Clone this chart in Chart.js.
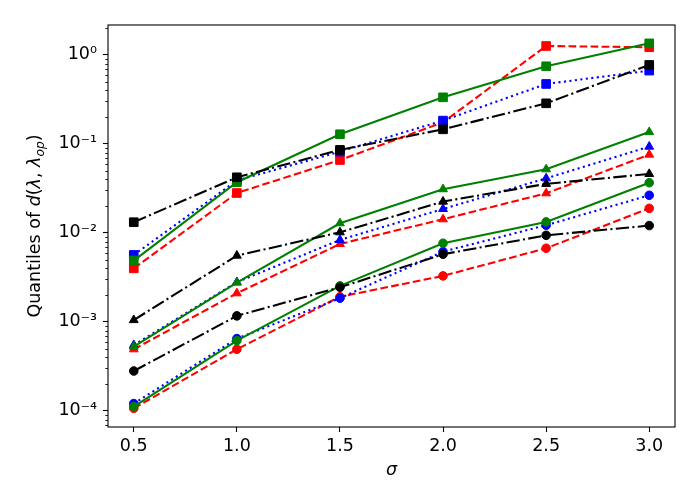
<!DOCTYPE html>
<html>
<head>
<meta charset="utf-8">
<script src="https://cdn.jsdelivr.net/npm/chart.js@4"></script>
<style>
  html, body { margin: 0; padding: 0; background: #fff; }
  #wrap { width: 700px; height: 500px; }
</style>
</head>
<body>
<div id="wrap"><canvas id="c" width="700" height="500"></canvas></div>
<script>
// ---- data ----
const sigma = [0.5, 1.0, 1.5, 2.0, 2.5, 3.0];
const xTicks = [0.5, 1.0, 1.5, 2.0, 2.5, 3.0];
const yTicks = [1e-4, 1e-3, 1e-2, 1e-1, 1e0];
const yTickLabels = ['10\u207B\u2074', '10\u207B\u00B3', '10\u207B\u00B2', '10\u207B\u00B9', '10\u2070'];

const redCircle   = [1.07e-4, 4.93e-4, 1.92e-3, 3.29e-3, 6.73e-3, 1.89e-2];
const redTri      = [4.93e-4, 2.10e-3, 7.52e-3, 1.425e-2, 2.79e-2, 7.59e-2];
const redSquare   = [4.00e-3, 2.81e-2, 6.60e-2, 1.75e-1, 1.26, 1.22];
const blueCircle  = [1.21e-4, 6.50e-4, 1.85e-3, 6.17e-3, 1.22e-2, 2.65e-2];
const blueTri     = [5.50e-4, 2.80e-3, 8.34e-3, 1.86e-2, 4.11e-2, 9.33e-2];
const blueSquare  = [5.66e-3, 3.88e-2, 8.20e-2, 1.83e-1, 4.72e-1, 6.67e-1];
const greenCircle = [1.12e-4, 6.17e-4, 2.54e-3, 7.66e-3, 1.33e-2, 3.67e-2];
const greenTri    = [5.28e-4, 2.77e-3, 1.285e-2, 3.10e-2, 5.19e-2, 1.36e-1];
const greenSquare = [4.89e-3, 3.71e-2, 1.285e-1, 3.34e-1, 7.46e-1, 1.35];
const blackCircle = [2.81e-4, 1.17e-3, 2.45e-3, 5.76e-3, 9.40e-3, 1.21e-2];
const blackTri    = [1.05e-3, 5.56e-3, 1.017e-2, 2.25e-2, 3.56e-2, 4.60e-2];
const blackSquare = [1.32e-2, 4.22e-2, 8.57e-2, 1.46e-1, 2.86e-1, 7.72e-1];

// ---- styles ----
const FONT = "'DejaVu Sans', 'Liberation Sans', sans-serif";
const FS = 17.5;
const LW = 2.08;
const methods = [
  { color: '#ff0000', dash: [7.7, 3.33], series: [redCircle, redTri, redSquare] },
  { color: '#0000ff', dash: [2.08, 3.44], series: [blueCircle, blueTri, blueSquare] },
  { color: '#008000', dash: [], series: [greenCircle, greenTri, greenSquare] },
  { color: '#000000', dash: [13.3, 3.33, 2.08, 3.33], series: [blackCircle, blackTri, blackSquare] }
];
const markers = [
  { style: 'circle', r: 4.3 },
  { style: 'triangle', r: 5.1 },
  { style: 'rect', r: 6.1 }
];

const datasets = [];
let seq = 0;
methods.forEach(m => {
  m.series.forEach((vals, qi) => {
    const mk = markers[qi];
    datasets.push({
      data: sigma.map((s, i) => ({ x: s, y: vals[i] })),
      borderColor: m.color,
      backgroundColor: m.color,
      borderWidth: LW,
      borderDash: m.dash,
      borderCapStyle: 'butt',
      fill: false,
      tension: 0,
      pointStyle: mk.style,
      pointRadius: mk.r,
      pointHoverRadius: mk.r,
      pointBorderWidth: 1,
      pointBackgroundColor: m.color,
      pointBorderColor: m.color,
      order: 100 - seq
    });
    seq++;
  });
});

const decoPlugin = {
  id: 'deco',
  afterDraw(chart) {
    const ctx = chart.ctx;
    const a = chart.chartArea;
    const ys = chart.scales.y;
    ctx.save();
    // minor ticks on log axis
    ctx.strokeStyle = '#000';
    ctx.lineWidth = 0.83;
    for (let k = -6; k <= 1; k++) {
      for (let m = 2; m <= 9; m++) {
        const v = m * Math.pow(10, k);
        if (v < ys.min || v > ys.max) continue;
        const py = Math.round(ys.getPixelForValue(v)) + 0.5;
        ctx.beginPath();
        ctx.moveTo(a.left, py);
        ctx.lineTo(a.left - 2.8, py);
        ctx.stroke();
      }
    }
    // frame
    ctx.lineWidth = 1.1;
    ctx.strokeRect(a.left, a.top, a.right - a.left, a.bottom - a.top);

    // x label
    ctx.fillStyle = '#000';
    ctx.font = 'italic ' + FS + 'px ' + FONT;
    ctx.textAlign = 'center';
    ctx.textBaseline = 'alphabetic';
    ctx.fillText('\u03C3', (a.left + a.right) / 2, 475);

    // y label (mixed styles, rotated)
    const segs = [
      { t: 'Quantiles of ', f: FS + 'px ' + FONT, dy: 0 },
      { t: 'd', f: 'italic ' + FS + 'px ' + FONT, dy: 0 },
      { t: '(', f: FS + 'px ' + FONT, dy: 0 },
      { t: '\u03BB', f: 'italic ' + FS + 'px ' + FONT, dy: 0 },
      { t: ', ', f: FS + 'px ' + FONT, dy: 0 },
      { t: '\u03BB', f: 'italic ' + FS + 'px ' + FONT, dy: 0 },
      { t: 'op', f: 'italic ' + (FS * 0.7) + 'px ' + FONT, dy: 3.5 },
      { t: ')', f: FS + 'px ' + FONT, dy: 0 }
    ];
    let total = 0;
    segs.forEach(s => { ctx.font = s.f; s.w = ctx.measureText(s.t).width; total += s.w; });
    ctx.translate(40, (a.top + a.bottom) / 2);
    ctx.rotate(-Math.PI / 2);
    ctx.textAlign = 'left';
    let x = -total / 2;
    segs.forEach(s => { ctx.font = s.f; ctx.fillText(s.t, x, s.dy); x += s.w; });
    ctx.restore();
  }
};

new Chart(document.getElementById('c'), {
  type: 'line',
  data: { datasets },
  options: {
    responsive: false,
    devicePixelRatio: 1,
    animation: false,
    events: [],
    layout: { padding: { top: 25, right: 25, left: 0, bottom: 0 } },
    plugins: { legend: { display: false }, tooltip: { enabled: false } },
    scales: {
      x: {
        type: 'linear',
        min: 0.375,
        max: 3.125,
        afterFit(s) { s.height = 73; },
        afterBuildTicks(s) { s.ticks = xTicks.map(v => ({ value: v })); },
        grid: { display: true, drawOnChartArea: false, drawTicks: true, tickLength: 5, tickColor: '#000', tickWidth: 1.1 },
        border: { display: false },
        ticks: {
          color: '#000', font: { family: FONT, size: FS }, padding: 4,
          maxRotation: 0, autoSkip: false,
          callback: v => Number(v).toFixed(1)
        }
      },
      y: {
        type: 'logarithmic',
        min: 6.6e-5,
        max: 2.17,
        afterFit(s) { s.width = 108; },
        afterBuildTicks(s) { s.ticks = yTicks.map(v => ({ value: v })); },
        grid: { display: true, drawOnChartArea: false, drawTicks: true, tickLength: 5, tickColor: '#000', tickWidth: 1.1 },
        border: { display: false },
        ticks: {
          color: '#000', font: { family: FONT, size: FS }, padding: 6,
          autoSkip: false,
          callback: (v) => { const i = yTicks.indexOf(v); return i >= 0 ? yTickLabels[i] : ''; }
        }
      }
    }
  },
  plugins: [decoPlugin]
});
</script>
</body>
</html>
